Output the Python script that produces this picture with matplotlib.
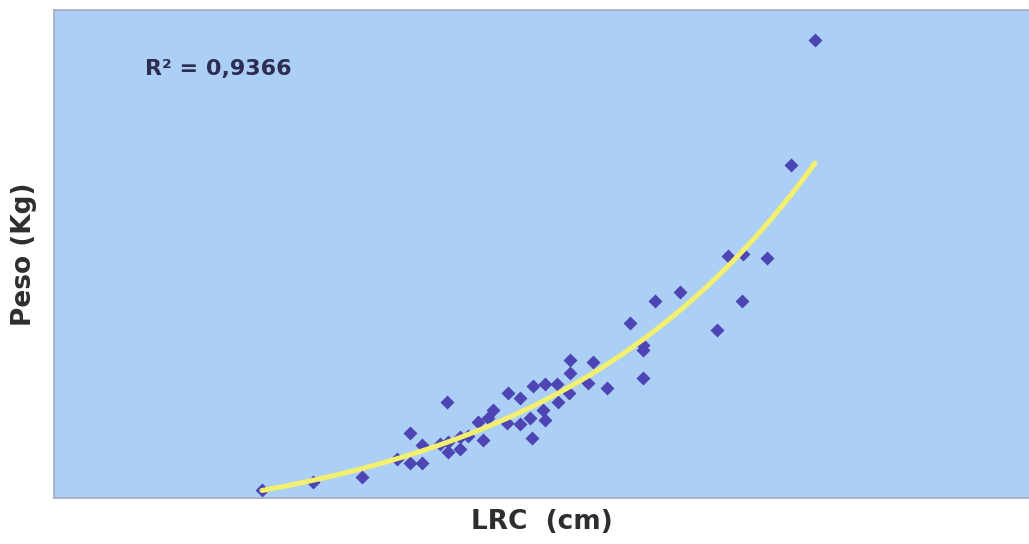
import numpy as np
import matplotlib
matplotlib.use("Agg")
import matplotlib.pyplot as plt

# ---- data (LRC in cm, Peso in kg, no ticks shown) ----
lrc = [26.2, 31.3, 36.2, 39.7, 41.0, 41.0, 42.2, 42.2, 44.0, 44.7,
       44.8, 44.8, 46.0, 46.0, 46.8, 47.8, 48.3, 48.8, 49.3, 50.7,
       50.8, 52.0, 52.0, 53.0, 53.2, 53.3, 54.3, 54.5, 54.5, 55.7,
       55.8, 57.0, 57.0, 56.9, 58.8, 59.3, 60.7, 63.0, 64.3, 64.3,
       64.3, 65.5, 68.0, 71.7, 72.8, 74.3, 74.2, 76.7, 79.1, 81.5]
peso = [5.0, 5.8, 6.3, 8.1, 10.7, 7.7, 9.5, 7.7, 9.6, 13.8,
        9.8, 8.8, 10.3, 9.1, 10.4, 11.8, 10.0, 12.2, 13.0, 11.7,
        14.7, 11.6, 14.2, 12.2, 10.2, 15.4, 13.0, 12.0, 15.6, 15.6,
        13.8, 18.0, 16.7, 14.7, 15.7, 17.8, 15.2, 21.7, 19.5, 19.0,
        16.2, 23.9, 24.8, 21.0, 28.4, 28.6, 23.9, 28.2, 37.5, 50.0]
r2_text = "R² = 0,9366"

# exponential trendline (least squares on log), like the spreadsheet one
b, ln_a = np.polyfit(lrc, np.log(peso), 1)
x_fit = np.linspace(min(lrc), max(lrc), 200)
y_fit = np.exp(ln_a) * np.exp(b * x_fit)

fig = plt.figure(figsize=(10.29, 5.44), dpi=100)
ax = fig.add_axes([54 / 1029, 46 / 544, 975 / 1029, 488 / 544])
ax.set_facecolor("#accff5")

ax.plot(lrc, peso, "D", color="#4d45b4", ms=6.8, mec="none", zorder=2)
ax.plot(x_fit, y_fit, color="#f2f06e", lw=3.6, solid_capstyle="round", zorder=3)

ax.set_xlim(5.4, 102.9)
ax.set_ylim(4.2, 53.0)
ax.set_xticks([])
ax.set_yticks([])
for side in ["left", "top", "bottom"]:
    ax.spines[side].set_color("#a9a7c4")
    ax.spines[side].set_linewidth(1.2)
ax.spines["right"].set_visible(False)

ax.text(0.093, 0.867, r2_text, transform=ax.transAxes, fontsize=16,
        fontweight="bold", color="#2f2c52", va="baseline")
ax.set_xlabel("LRC  (cm)", fontsize=19, fontweight="bold", color="#2e2e2e",
              labelpad=8)
ax.set_ylabel("Peso (Kg)", fontsize=19, fontweight="bold", color="#2e2e2e",
              labelpad=12)

fig.savefig("out.png", dpi=100)
